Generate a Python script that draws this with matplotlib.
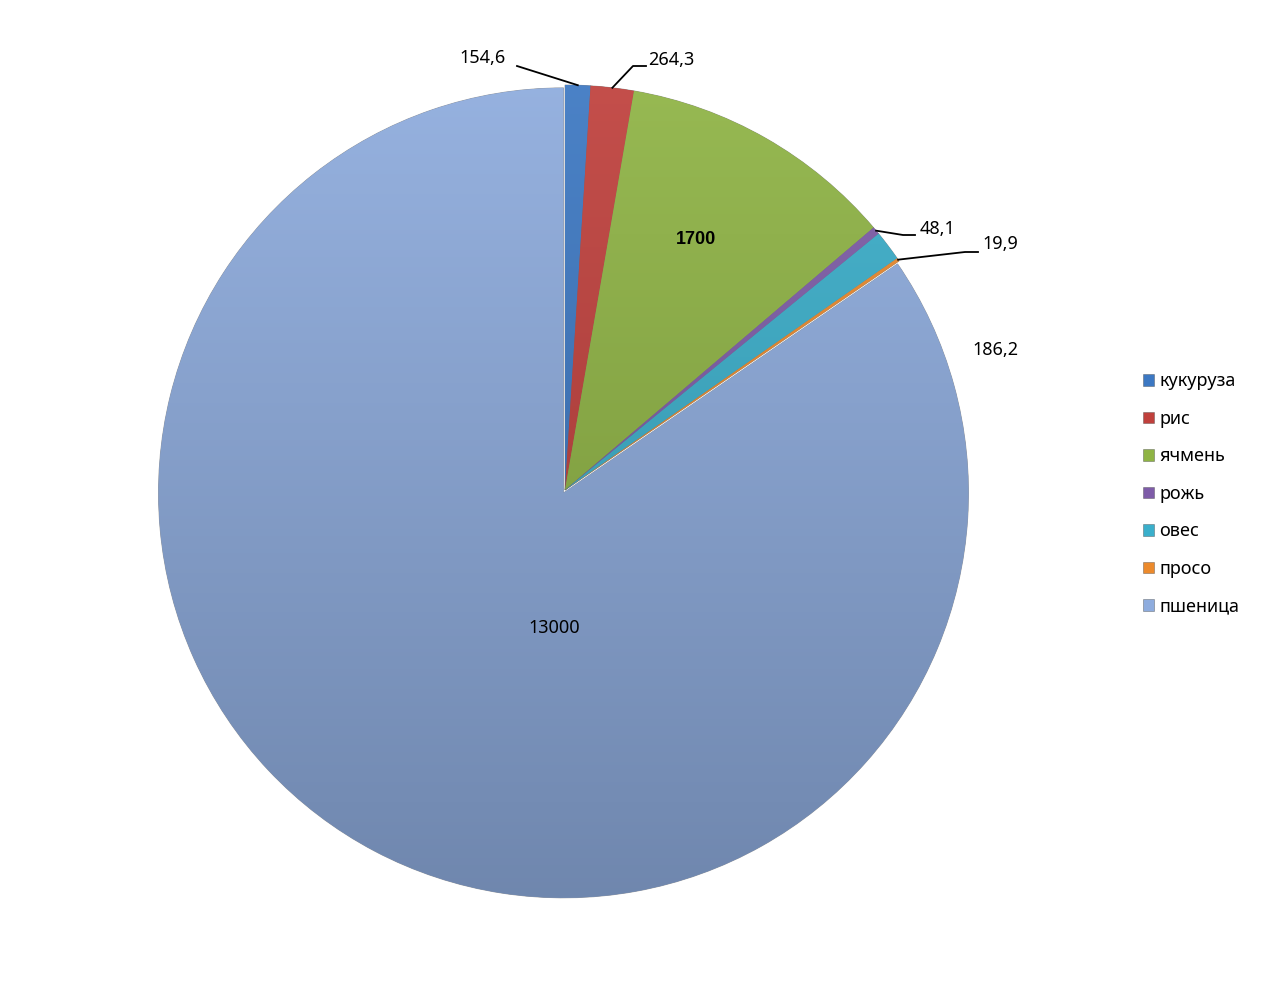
import numpy as np
import matplotlib
matplotlib.use('Agg')
import matplotlib.pyplot as plt
from matplotlib.patches import Patch
from matplotlib.colors import to_rgb

plt.rcParams['font.family'] = ['Noto Sans', 'DejaVu Sans']

crops = ["кукуруза", "рис", "ячмень", "рожь", "овес", "просо", "пшеница"]
values = [154.6, 264.3, 1700, 48.1, 186.2, 19.9, 13000]
labels = ["154,6", "264,3", "1700", "48,1", "186,2", "19,9", "13000"]
colors = ["#3C78C3", "#C0403C", "#8FB444", "#7E5CA8", "#3AAFCB", "#EC8A2C", "#8EACDE"]

W, H = 1266, 983
cx, cy, R = 565, 490, 405
fig = plt.figure(figsize=(W / 100, H / 100), dpi=100)
ax = fig.add_axes([0, 0, 1, 1])

explode = [0, 0, 0, 0, 0, 0, 0.008]
wedges, _ = ax.pie(values, colors=colors, startangle=90, counterclock=False,
                   explode=explode, radius=1, center=(0, 0), frame=True,
                   wedgeprops=dict(linewidth=0.6, edgecolor="#55555588"))

# vertical gradient inside each wedge, light at top, darker at bottom
for w, c in zip(wedges, colors):
    base = np.array(to_rgb(c))
    top = base + (1 - base) * 0.08
    bot = base * 0.78
    t = np.linspace(0, 1, 256)[:, None, None]
    img = top * (1 - t) + bot * t
    im = ax.imshow(img, extent=[-1.05, 1.05, -1.05, 1.05], origin='upper',
                   aspect='auto', zorder=w.get_zorder() + 0.1)
    im.set_clip_path(w)

ax.set_xlim(-cx / R, (W - cx) / R)
ax.set_ylim((cy - H) / R, cy / R)
ax.axis('off')


def mid(i):
    w = wedges[i]
    a = np.deg2rad((w.theta1 + w.theta2) / 2)
    return np.cos(a), np.sin(a)


def px(x, y):
    return (x - cx) / R, (cy - y) / R


def leader(i, pts):
    mx, my = mid(i)
    xs = [mx] + [px(*p)[0] for p in pts]
    ys = [my] + [px(*p)[1] for p in pts]
    ax.plot(xs, ys, color='black', lw=1.3, zorder=10)


fs = 13
# 154,6
leader(0, [(517, 66)])
ax.text(*px(506, 58), labels[0], ha='right', va='center', fontsize=fs)
# 264,3
leader(1, [(633, 66), (646, 66)])
ax.text(*px(648, 60), labels[1], ha='left', va='center', fontsize=fs)
# 1700
ax.text(*px(696, 240), labels[2], ha='center', va='center', fontsize=fs,
        fontweight='bold', family=['Liberation Sans', 'DejaVu Sans'], zorder=10)
# 48,1
leader(3, [(903, 235), (915, 235)])
ax.text(*px(920, 229), labels[3], ha='left', va='center', fontsize=fs)
# 186,2 (овес)
ax.text(*px(995, 350), labels[4], ha='center', va='center', fontsize=fs)
# 19,9
leader(5, [(965, 252), (978, 252)])
ax.text(*px(982, 244), labels[5], ha='left', va='center', fontsize=fs)
# 13000
ax.text(*px(554, 628), labels[6], ha='center', va='center', fontsize=fs, zorder=10)

handles = [Patch(facecolor=c, edgecolor='#44444488', linewidth=0.5) for c in colors]
fig.legend(handles, crops, loc='upper left', bbox_to_anchor=(1136 / W, 1 - 365 / H),
           frameon=False, fontsize=fs, handlelength=0.6, handleheight=0.6,
           handletextpad=0.3, labelspacing=1.08, borderaxespad=0)

fig.savefig("out.png", dpi=100)
